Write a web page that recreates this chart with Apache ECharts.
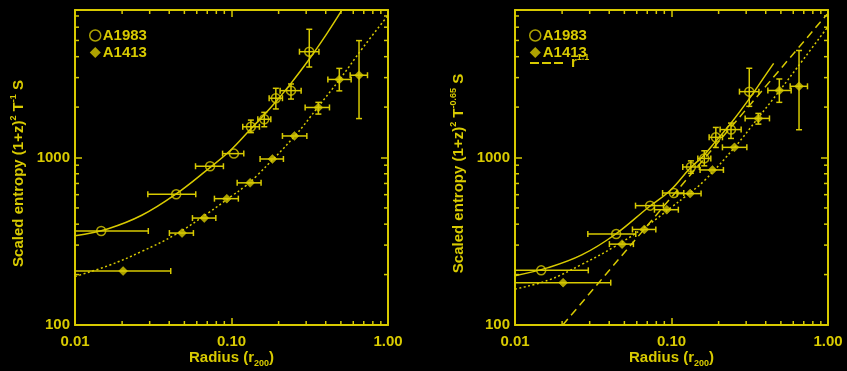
<!DOCTYPE html>
<html>
<head>
<meta charset="utf-8">
<script src="https://cdn.jsdelivr.net/npm/echarts@6/dist/echarts.min.js"></script>
<style>
html, body { margin: 0; padding: 0; background: #000; }
#chart { width: 847px; height: 371px; }
</style>
</head>
<body>
<div id="chart"></div>
<script>
// ---------------- data ----------------
// Axis ticks
const xMin = 0.01, xMax = 1.0;
const yMin = 100, yMax = 7600;
const xTickValues = [0.01, 0.1, 1.0];
const xTickLabels = ['0.01', '0.10', '1.00'];
const yTickValues = [100, 1000];
const yTickLabels = ['100', '1000'];
const xMinorTicks = [0.02, 0.03, 0.04, 0.05, 0.06, 0.07, 0.08, 0.09, 0.2, 0.3, 0.4, 0.5, 0.6, 0.7, 0.8, 0.9];
const yMinorTicks = [200, 300, 400, 500, 600, 700, 800, 900, 2000, 3000, 4000, 5000, 6000, 7000];

// A1983 radii (r200) with horizontal error bars (same in both panels)
const a1983R   = [0.0147, 0.0443, 0.0730, 0.1036, 0.1330, 0.1620, 0.1920, 0.2400, 0.3140];
const a1983RLo = [0.0100, 0.0292, 0.0589, 0.0877, 0.1180, 0.1473, 0.1740, 0.2045, 0.2718];
const a1983RHi = [0.0294, 0.0591, 0.0888, 0.1198, 0.1508, 0.1783, 0.2116, 0.2786, 0.3620];
// A1983 scaled entropy, left panel (T^-1)
const a1983SL   = [364, 603, 887, 1055, 1526, 1693, 2260, 2508, 4284];
const a1983SLLo = [364, 603, 887, 1055, 1408, 1527, 1950, 2234, 3470];
const a1983SLHi = [364, 603, 887, 1055, 1673, 1860, 2590, 2748, 5830];
// A1983 scaled entropy, right panel (T^-0.65)
const a1983SR   = [212, 349, 516, 614, 878, 988, 1320, 1468, 2474];
const a1983SRLo = [212, 349, 516, 614, 805, 892, 1148, 1300, 2021];
const a1983SRHi = [212, 349, 516, 614, 955, 1097, 1512, 1605, 3412];

// A1413 radii (r200) with horizontal error bars
const a1413R   = [0.0203, 0.0483, 0.0670, 0.0933, 0.1315, 0.1826, 0.2525, 0.3590, 0.4885, 0.6530];
const a1413RLo = [0.0100, 0.0401, 0.0563, 0.0778, 0.1087, 0.1523, 0.2116, 0.2955, 0.4128, 0.5731];
const a1413RHi = [0.0409, 0.0571, 0.0794, 0.1106, 0.1545, 0.2147, 0.3030, 0.4227, 0.5816, 0.7395];
// A1413 scaled entropy, left panel
const a1413SL   = [210, 354, 435, 568, 706, 980, 1345, 1990, 2925, 3100];
const a1413SLLo = [210, 354, 435, 568, 706, 980, 1345, 1817, 2500, 1708];
const a1413SLHi = [210, 354, 435, 568, 706, 980, 1345, 2135, 3405, 4990];
// A1413 scaled entropy, right panel
const a1413SR   = [179, 304, 372, 488, 609, 843, 1150, 1712, 2514, 2662];
const a1413SRLo = [179, 304, 372, 488, 609, 843, 1150, 1583, 2135, 1465];
const a1413SRHi = [179, 304, 372, 488, 609, 843, 1150, 1834, 2944, 4355];

// Fitted curves
const fitA1983LR = [0.0100, 0.0163, 0.0267, 0.0436, 0.0711, 0.0978, 0.1313, 0.1597, 0.1944, 0.2364, 0.3095, 0.4058, 0.5061];
const fitA1983LS = [341, 376, 452, 600, 856, 1097, 1465, 1777, 2185, 2725, 3793, 5474, 7554];
const fitA1413LR = [0.0100, 0.0163, 0.0267, 0.0436, 0.0711, 0.1000, 0.1220, 0.1449, 0.2545, 0.3555, 0.4935, 0.6953, 1.0000];
const fitA1413LS = [195, 226, 275, 346, 467, 588, 673, 777, 1349, 1993, 2943, 4558, 7050];
const fitA1983RR = [0.0100, 0.0163, 0.0267, 0.0436, 0.0713, 0.0981, 0.1313, 0.1602, 0.1944, 0.2364, 0.3095, 0.4058, 0.4495];
const fitA1983RS = [197, 220, 262, 347, 505, 636, 862, 1025, 1270, 1575, 2200, 3180, 3650];
const fitA1413RR = [0.0100, 0.0163, 0.0267, 0.0436, 0.0713, 0.1000, 0.1224, 0.1602, 0.2545, 0.3555, 0.4935, 0.6953, 1.0000];
const fitA1413RS = [164, 185, 230, 295, 398, 505, 585, 720, 1157, 1710, 2525, 3850, 6050];
// r^1.1 reference line (right panel)
const powerLawR = [0.0202, 0.987];
const powerLawS = [100, 7180];

// ---------------- styling ----------------
const Y = '#d8ca00';
const FONT = '"Liberation Sans", Arial, Helvetica, sans-serif';

const richStyles = {
  a:   { fontSize: 15, fontWeight: 'bold', color: Y, fontFamily: FONT, lineHeight: 20 },
  sup: { fontSize: 9,  fontWeight: 'bold', color: Y, fontFamily: FONT, verticalAlign: 'top' },
  sub: { fontSize: 9,  fontWeight: 'bold', color: Y, fontFamily: FONT, verticalAlign: 'bottom' }
};

function tickFmt(values, labels) {
  return function (v) {
    for (let i = 0; i < values.length; i++) {
      if (Math.abs(Math.log10(v / values[i])) < 1e-6) return labels[i];
    }
    return '';
  };
}

function baseAxis(g) {
  return {
    type: 'log', logBase: 10, gridIndex: g,
    splitLine: { show: false }, minorSplitLine: { show: false },
    axisLine: { show: true, lineStyle: { color: Y, width: 2 } },
    axisTick: { show: true, inside: true, length: 7, lineStyle: { color: Y, width: 1.5 } },
    minorTick: { show: false }
  };
}

function makeXAxes(g) {
  const b = baseAxis(g);
  return [
    Object.assign({}, b, {
      min: xMin, max: xMax, position: 'bottom',
      axisLabel: { show: true, formatter: tickFmt(xTickValues, xTickLabels), margin: 9,
                   color: Y, fontSize: 15, fontWeight: 'bold', fontFamily: FONT },
      name: '{a|Radius (r}{sub|200}{a|)}',
      nameLocation: 'middle', nameGap: 23, nameMoveOverlap: false,
      nameTextStyle: { color: Y, fontFamily: FONT, fontSize: 15, fontWeight: 'bold', lineHeight: 20, rich: richStyles }
    }),
    Object.assign({}, b, { min: xMin, max: xMax, position: 'top', axisLabel: { show: false } })
  ];
}

function makeYAxes(g, name) {
  const b = baseAxis(g);
  return [
    Object.assign({}, b, {
      min: yMin, max: yMax, position: 'left',
      axisLabel: { show: true, formatter: tickFmt(yTickValues, yTickLabels), margin: 5,
                   color: Y, fontSize: 15, fontWeight: 'bold', fontFamily: FONT },
      name: name, nameLocation: 'middle', nameRotate: 90, nameGap: 46, nameMoveOverlap: false,
      nameTextStyle: { color: Y, fontFamily: FONT, fontSize: 15, fontWeight: 'bold', lineHeight: 20,
                       padding: [0, 12, 0, 0], rich: richStyles }
    }),
    Object.assign({}, b, { min: yMin, max: yMax, position: 'right', axisLabel: { show: false } })
  ];
}

function errRows(r, rl, rh, s, sl, sh) {
  return r.map((v, i) => [v, s[i], rl[i], rh[i], sl[i], sh[i]]);
}

function renderErr(params, api) {
  const r = api.value(0), s = api.value(1);
  const rl = api.value(2), rh = api.value(3), sl = api.value(4), sh = api.value(5);
  const c = api.coord([r, s]);
  const pl = api.coord([rl, s]);
  const ph = api.coord([rh, s]);
  const st = { stroke: Y, lineWidth: 1.5, fill: null };
  const cap = 3;
  const ch = [];
  ch.push({ type: 'line', shape: { x1: pl[0], y1: c[1], x2: ph[0], y2: c[1] }, style: st });
  ch.push({ type: 'line', shape: { x1: pl[0], y1: c[1] - cap, x2: pl[0], y2: c[1] + cap }, style: st });
  ch.push({ type: 'line', shape: { x1: ph[0], y1: c[1] - cap, x2: ph[0], y2: c[1] + cap }, style: st });
  if (sh > sl * 1.0001) {
    const vl = api.coord([r, sl]);
    const vh = api.coord([r, sh]);
    ch.push({ type: 'line', shape: { x1: c[0], y1: vl[1], x2: c[0], y2: vh[1] }, style: st });
    ch.push({ type: 'line', shape: { x1: c[0] - cap, y1: vl[1], x2: c[0] + cap, y2: vl[1] }, style: st });
    ch.push({ type: 'line', shape: { x1: c[0] - cap, y1: vh[1], x2: c[0] + cap, y2: vh[1] }, style: st });
  }
  return { type: 'group', children: ch };
}

function errSeries(name, g, rows) {
  return {
    name: name, type: 'custom', xAxisIndex: g * 2, yAxisIndex: g * 2,
    renderItem: renderErr, data: rows, clip: true, z: 3,
    encode: { x: 0, y: 1 }, silent: true
  };
}

// minor ticks on all four sides, placed through the axis scales
function minorTickSeries(g) {
  const rows = xMinorTicks.map(v => [v, yMin, 0]).concat(yMinorTicks.map(v => [xMin, v, 1]));
  return {
    name: 'minor' + g, type: 'custom', xAxisIndex: g * 2, yAxisIndex: g * 2,
    data: rows, clip: false, silent: true, z: 5, encode: { x: 0, y: 1 },
    renderItem: function (params, api) {
      const v0 = api.value(0), v1 = api.value(1), kind = api.value(2);
      const st = { stroke: Y, lineWidth: 1.5 };
      const L = 4;
      if (kind === 0) {
        const b = api.coord([v0, yMin]), t = api.coord([v0, yMax]);
        return { type: 'group', children: [
          { type: 'line', shape: { x1: b[0], y1: b[1], x2: b[0], y2: b[1] - L }, style: st },
          { type: 'line', shape: { x1: t[0], y1: t[1], x2: t[0], y2: t[1] + L }, style: st }
        ] };
      }
      const l = api.coord([xMin, v1]), r = api.coord([xMax, v1]);
      return { type: 'group', children: [
        { type: 'line', shape: { x1: l[0], y1: l[1], x2: l[0] + L, y2: l[1] }, style: st },
        { type: 'line', shape: { x1: r[0], y1: r[1], x2: r[0] - L, y2: r[1] }, style: st }
      ] };
    }
  };
}

function pointSeries(name, g, r, s, hollow) {
  return {
    name: name, type: 'scatter', xAxisIndex: g * 2, yAxisIndex: g * 2,
    data: r.map((v, i) => [v, s[i]]),
    symbol: hollow ? 'circle' : 'diamond', symbolSize: 9, z: 4,
    itemStyle: hollow ? { color: 'rgba(0,0,0,0)', borderColor: Y, borderWidth: 1.5 }
                      : { color: Y, borderColor: Y, borderWidth: 0.5 }
  };
}

function curveSeries(name, g, r, s, type) {
  return {
    name: name, type: 'line', xAxisIndex: g * 2, yAxisIndex: g * 2,
    data: r.map((v, i) => [v, s[i]]), showSymbol: false, symbol: 'none',
    smooth: 0.4, clip: true, z: 2,
    itemStyle: { color: Y },
    lineStyle: { color: Y, width: 1.5, type: type }
  };
}

const legendText = { color: Y, fontSize: 15, fontWeight: 'bold', fontFamily: FONT, padding: [0, 0, 0, -3], rich: richStyles };
const legendItems = [
  { name: 'A1983', icon: 'circle', itemStyle: { color: 'rgba(0,0,0,0)', borderColor: Y, borderWidth: 1.5 } },
  { name: 'A1413', icon: 'diamond', itemStyle: { color: Y, borderColor: Y, borderWidth: 0 } }
];

const gridBase = { top: 10, width: 313, height: 315, show: false, containLabel: false, outerBoundsMode: 'none' };

const option = {
  backgroundColor: '#000',
  animation: false,
  grid: [
    Object.assign({ left: 75 }, gridBase),
    Object.assign({ left: 515 }, gridBase)
  ],
  xAxis: makeXAxes(0).concat(makeXAxes(1)),
  yAxis: makeYAxes(0, '{a|Scaled entropy (1+z)}{sup|2}{a| T}{sup|-1}{a| S}')
          .concat(makeYAxes(1, '{a|Scaled entropy (1+z)}{sup|2}{a| T}{sup|-0.65}{a| S}')),
  legend: [
    { orient: 'vertical', left: 89, top: 28, padding: 0, itemWidth: 11, itemHeight: 11, itemGap: 2,
      selectedMode: false, textStyle: legendText, data: legendItems },
    { orient: 'vertical', left: 529, top: 28, padding: 0, itemWidth: 11, itemHeight: 11, itemGap: 2,
      selectedMode: false, textStyle: legendText, data: legendItems },
    { orient: 'vertical', left: 529, top: 53, padding: 0, itemWidth: 33, itemHeight: 11,
      selectedMode: false,
      textStyle: Object.assign({}, legendText, { padding: [0, 0, 0, 3] }),
      formatter: function () { return '{a|r}{sup|1.1}'; },
      data: [{ name: 'r^1.1',
               itemStyle: { color: 'rgba(0,0,0,0)', borderWidth: 0, opacity: 0 },
               lineStyle: { color: Y, width: 2, type: [9, 3] } }] }
  ],
  series: [
    // left panel
    curveSeries('fitA1983L', 0, fitA1983LR, fitA1983LS, 'solid'),
    curveSeries('fitA1413L', 0, fitA1413LR, fitA1413LS, [2, 2.5]),
    errSeries('errA1983L', 0, errRows(a1983R, a1983RLo, a1983RHi, a1983SL, a1983SLLo, a1983SLHi)),
    errSeries('errA1413L', 0, errRows(a1413R, a1413RLo, a1413RHi, a1413SL, a1413SLLo, a1413SLHi)),
    pointSeries('A1983', 0, a1983R, a1983SL, true),
    pointSeries('A1413', 0, a1413R, a1413SL, false),
    minorTickSeries(0),
    // right panel
    curveSeries('fitA1983R', 1, fitA1983RR, fitA1983RS, 'solid'),
    curveSeries('fitA1413R', 1, fitA1413RR, fitA1413RS, [2, 2.5]),
    curveSeries('r^1.1', 1, powerLawR, powerLawS, [8, 5]),
    errSeries('errA1983R', 1, errRows(a1983R, a1983RLo, a1983RHi, a1983SR, a1983SRLo, a1983SRHi)),
    errSeries('errA1413R', 1, errRows(a1413R, a1413RLo, a1413RHi, a1413SR, a1413SRLo, a1413SRHi)),
    pointSeries('A1983', 1, a1983R, a1983SR, true),
    pointSeries('A1413', 1, a1413R, a1413SR, false),
    minorTickSeries(1)
  ]
};

const chart = echarts.init(document.getElementById('chart'), null, { renderer: 'canvas' });
chart.setOption(option);
</script>
</body>
</html>
